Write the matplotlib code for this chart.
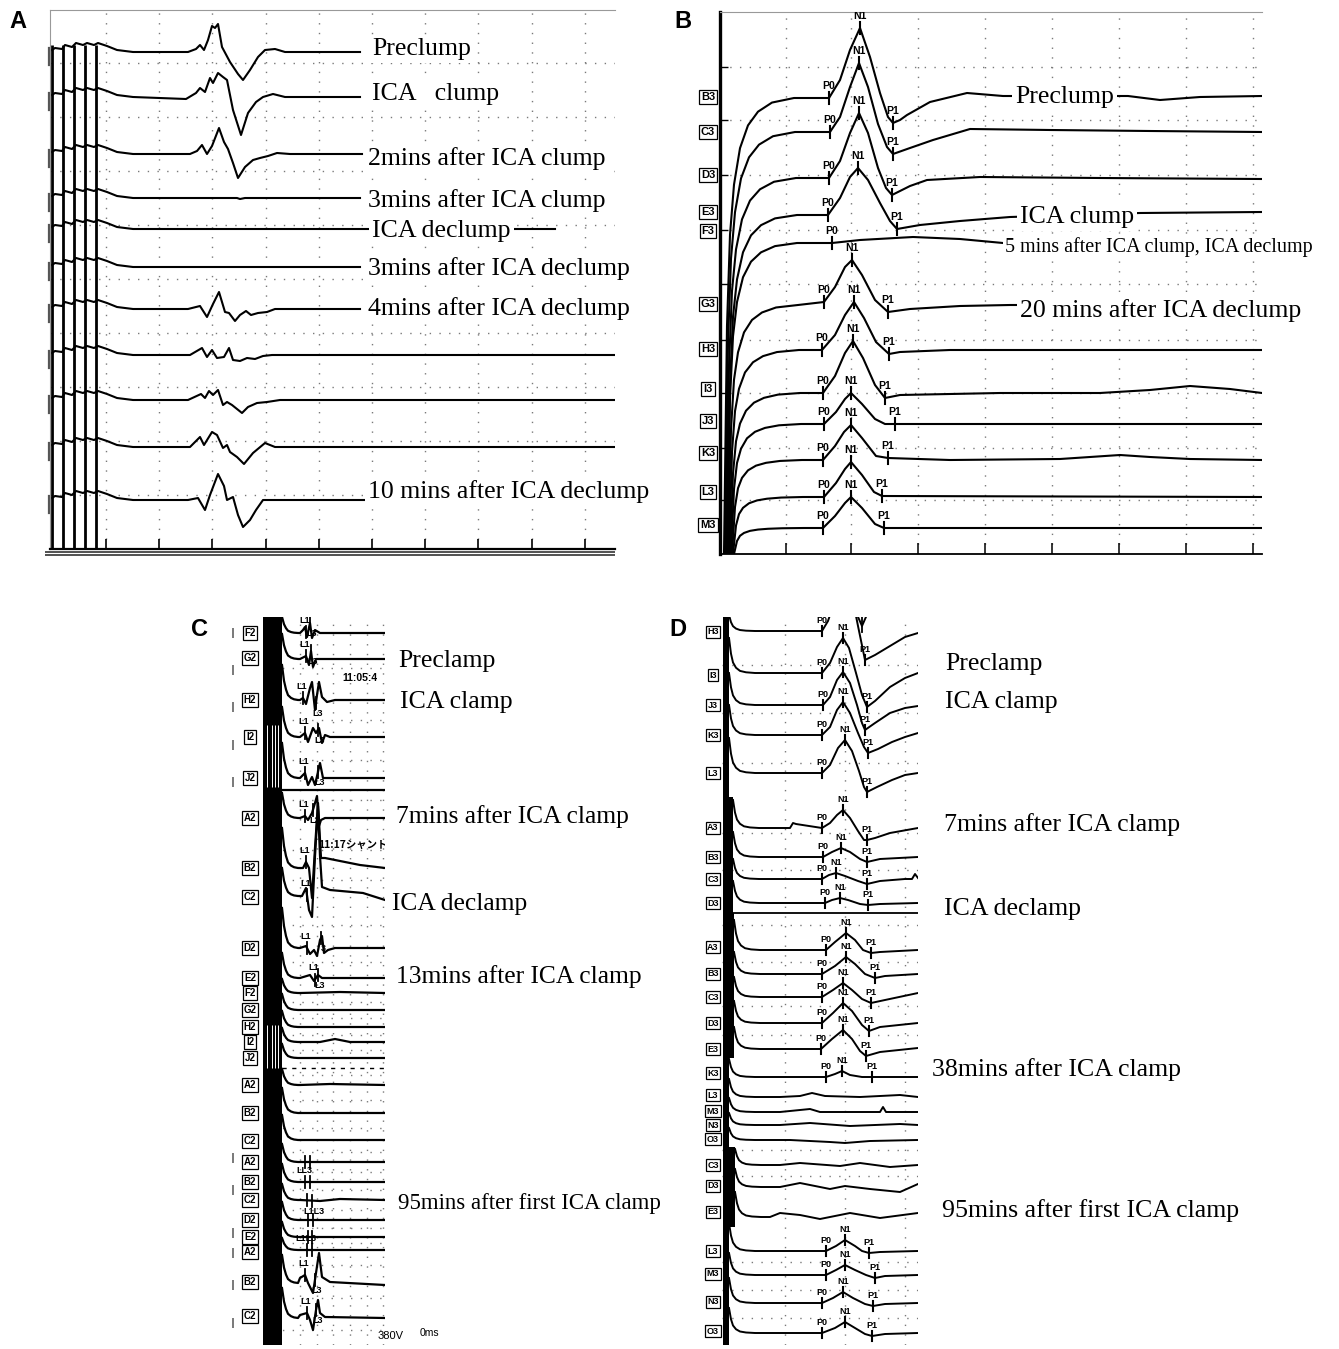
import numpy as np
import matplotlib
matplotlib.use("Agg")
import matplotlib.pyplot as plt

W, H = 1339, 1349
SERIF = "Liberation Serif"
SANS = "Liberation Sans"

# ---------------- panel A : 11 traces ----------------
A_base = [52, 97, 154, 198, 229, 267, 309, 355, 400, 447, 500]
A_end = [360, 360, 362, 360, 555, 360, 360, 615, 615, 615, 365]
A_start_x = [52, 55, 62, 65, 72, 76, 83, 87, 94, 98, 107, 117, 133]
A_start_dy = [-2, -4, -3, -7, -5, -9, -7, -9, -7, -9, -6, -2, 0]
A_cal_x = [52, 63, 74, 85, 96]
A_wave_x = [
    [188, 196, 200, 204, 208, 212, 215, 218, 222, 230, 238, 243, 250, 258, 265, 275, 285],
    [186, 196, 200, 205, 210, 213, 218, 223, 227, 233, 241, 248, 256, 263, 273, 285],
    [190, 197, 202, 207, 212, 219, 224, 228, 233, 238, 245, 253, 260, 268, 277, 290],
    [190, 237, 240, 245, 290],
    [190, 300],
    [190, 300],
    [188, 200, 207, 213, 219, 225, 229, 235, 240, 246, 251, 258, 267, 275],
    [190, 202, 207, 212, 217, 224, 229, 233, 240, 247, 255, 263, 272],
    [188, 201, 205, 209, 213, 218, 223, 227, 232, 242, 248, 257, 267, 280],
    [190, 200, 204, 212, 217, 223, 227, 230, 237, 244, 253, 265, 275],
    [188, 198, 205, 210, 218, 224, 227, 233, 238, 243, 250, 256, 263, 275],
]
A_wave_dy = [
    [0, -3, -7, -2, -12, -26, -24, -28, -5, 10, 22, 28, 18, 5, -2, -3, 0],
    [2, -4, -9, -5, -19, -14, -24, -20, -17, 13, 38, 16, 5, 0, -3, 0],
    [0, -3, -9, 0, -8, -26, -12, -5, 9, 24, 13, 6, 4, 2, -1, 0],
    [0, 0, 1, 0, 0],
    [0, 0],
    [0, 0],
    [0, -3, 8, -5, -17, 3, 4, 12, 6, 2, 6, 4, 3, 0],
    [0, -7, 2, -5, 3, 2, -7, 5, 6, 3, 4, 1, 0],
    [0, -6, -2, -9, -5, -10, 5, 2, 5, 13, 7, 3, 2, 0],
    [0, -10, -2, -15, -12, 1, -2, 5, 10, 17, 6, -4, 0],
    [0, -2, 10, -5, -26, -14, 0, -3, 15, 27, 20, 10, 0, 0],
]
A_grid_x = [106, 159, 212, 266, 319, 372, 425, 478, 532, 585]
A_grid_y = [63, 117, 171, 225, 279, 333, 387, 441, 495]
A_labels = ["Preclump", "ICA   clump", "2mins after ICA clump", "3mins after ICA clump",
            "ICA declump", "3mins after ICA declump", "4mins after ICA declump",
            "10 mins after ICA declump"]
A_label_x = [372, 372, 368, 368, 372, 368, 368, 368]
A_label_y = [49, 94, 159, 201, 231, 269, 309, 492]

# ---------------- panel B : 12 traces ----------------
B_names = ["B3", "C3", "D3", "E3", "F3", "G3", "H3", "I3", "J3", "K3", "L3", "M3"]
B_name_y = [97, 132, 175, 212, 231, 304, 349, 389, 421, 453, 492, 525]
B_base = [98, 132, 178, 215, 243, 305, 350, 393, 424, 460, 497, 528]
B_x0 = [724, 725, 726, 727, 727, 728, 729, 730, 731, 732, 733, 734]
B_rise_dx = [0, 3, 6, 10, 16, 24, 34, 48, 70]
B_rise_f = [1, 0.5, 0.3, 0.19, 0.11, 0.06, 0.03, 0.01, 0]
B_wave_x = [
    [829, 840, 850, 860, 870, 880, 888, 893, 900, 907, 930, 967, 1003, 1060, 1128, 1160, 1200, 1262],
    [830, 840, 850, 859, 868, 878, 887, 893, 910, 933, 970, 1050, 1150, 1262],
    [829, 840, 850, 859, 868, 878, 886, 892, 910, 927, 980, 1100, 1262],
    [828, 840, 850, 858, 868, 880, 890, 897, 920, 960, 1010, 1140, 1262],
    [832, 860, 913, 960, 1003, 1262],
    [824, 835, 845, 852, 862, 875, 888, 910, 960, 1010, 1262],
    [822, 835, 845, 854, 864, 876, 889, 900, 950, 1262],
    [823, 835, 845, 853, 863, 875, 885, 900, 1000, 1100, 1150, 1190, 1230, 1262],
    [824, 836, 845, 851, 862, 875, 885, 895, 1000, 1262],
    [823, 835, 844, 851, 862, 876, 888, 950, 1060, 1090, 1120, 1150, 1190, 1262],
    [824, 836, 845, 851, 862, 874, 882, 1262],
    [823, 835, 845, 851, 862, 875, 884, 1262],
]
B_wave_dy = [
    [0, -18, -48, -70, -41, -5, 19, 25, 22, 17, 4, -5, -2, -2, -2, 2, -1, -2],
    [0, -15, -45, -69, -45, -8, 15, 22, 16, 8, -3, -2, -1, 0],
    [0, -17, -45, -65, -45, -10, 10, 17, 8, 2, -1, 0, 1],
    [0, -17, -38, -47, -35, -12, 6, 14, 10, 6, 2, -2, -3],
    [0, -3, -6, -4, 0, 0],
    [-3, -18, -38, -45, -30, -5, 7, 4, 1, 0, 0],
    [0, -15, -35, -48, -32, -8, 4, 2, 0, 0],
    [0, -17, -40, -52, -35, -8, 5, 2, 0, 0, -3, -7, -4, 0],
    [0, -12, -25, -31, -20, -5, 0, 0, 0, 0],
    [0, -14, -28, -35, -22, -4, -2, 0, -1, -3, -5, -3, -1, 0],
    [0, -14, -28, -35, -22, -5, -1, 0],
    [0, -12, -25, -31, -20, -4, 0, 0],
]
B_p0 = [829, 830, 829, 828, 832, 824, 822, 823, 824, 823, 824, 823]
B_n1 = [860, 859, 859, 858, None, 852, 854, 853, 851, 851, 851, 851]
B_p1 = [893, 893, 892, 897, None, 888, 889, 885, 895, 888, 882, 884]
B_grid_x = [786, 851, 918, 985, 1052, 1119, 1186, 1253]
B_grid_y = [67, 120, 175, 230, 284, 340, 393, 448, 500]
B_labels = ["Preclump", "ICA clump", "5 mins after ICA clump, ICA declump", "20 mins after ICA declump"]
B_label_x = [1015, 1020, 1005, 1020]
B_label_y = [97, 217, 247, 311]
B_label_size = [18.6, 18.6, 14.5, 18.6]

# ---------------- panel C : 26 traces ----------------
C_names = ["F2", "G2", "H2", "I2", "J2", "A2", "B2", "C2", "D2", "E2", "F2", "G2", "H2",
           "I2", "J2", "A2", "B2", "C2", "A2", "B2", "C2", "D2", "E2", "A2", "B2", "C2"]
C_name_y = [633, 658, 700, 737, 778, 818, 868, 897, 948, 978, 993, 1010, 1027, 1042, 1058,
            1085, 1113, 1141, 1162, 1182, 1200, 1220, 1237, 1252, 1282, 1316]
C_base = [633, 659, 700, 737, 778, 818, 868, 896, 948, 978, 993, 1010, 1027, 1042, 1058,
          1085, 1113, 1140, 1162, 1182, 1200, 1220, 1237, 1250, 1283, 1318]
C_amp = [16, 25, 35, 30, 35, 25, 40, 28, 40, 25, 14, 16, 16, 14, 14,
         16, 25, 25, 18, 18, 16, 18, 15, 12, 28, 30]
C_drop_dx = [0, 2, 4, 6, 9, 12, 16]
C_drop_f = [1, 0.55, 0.3, 0.14, 0.06, 0.02, 0]
C_wave_x = [
    [300, 303, 305, 307, 310, 312, 315, 320, 385],
    [300, 306, 309, 311, 313, 316, 320, 385],
    [300, 303, 306, 310, 312, 315, 317, 319, 322, 327, 335, 385],
    [300, 305, 308, 313, 316, 319, 322, 325, 330, 385],
    [300, 305, 308, 312, 315, 320, 323, 330, 385],
    [300, 305, 308, 312, 315, 317, 319, 321, 325, 385],
    [303, 306, 309, 312, 315, 318, 321, 325, 340, 360, 385],
    [302, 306, 309, 312, 315, 318, 320, 322, 330, 363, 385],
    [300, 306, 310, 314, 317, 320, 322, 324, 328, 335, 385],
    [300, 310, 314, 318, 322, 385],
    [300, 340, 385],
    [300, 385],
    [300, 385],
    [300, 320, 335, 350, 385],
    [300, 385],
    [300, 330, 385],
    [300, 385],
    [300, 385],
    [300, 385],
    [300, 385],
    [300, 320, 340, 385],
    [300, 385],
    [300, 385],
    [300, 385],
    [300, 305, 308, 313, 316, 319, 322, 330, 385],
    [300, 307, 310, 313, 316, 318, 320, 325, 385],
]
C_wave_dy = [
    [0, -3, -6, 4, -10, 5, -3, 0, 0],
    [0, -3, 6, -8, 8, 0, 0, 0],
    [0, -2, 4, -12, -18, 10, -5, -18, -3, 2, 0, 0],
    [0, -4, 5, -9, -4, -9, 6, -2, 0, 0],
    [0, -5, 7, -1, 7, -15, 0, 0, 0],
    [0, -2, 2, -5, -15, -22, 8, 2, 0, 0],
    [0, -6, 0, 30, -20, -65, -10, -10, -7, -3, 0],
    [0, -8, 14, 21, -40, -90, -40, -9, -6, -3, 4],
    [0, -2, 6, 2, 8, -8, -12, 5, 2, 0, 0],
    [0, -3, 3, -3, 0, 0],
    [0, -1, 0],
    [0, 0],
    [0, 0],
    [0, 0, -3, 0, 0],
    [0, 0],
    [0, -1, 0],
    [0, 0],
    [0, 0],
    [0, 0],
    [0, 0],
    [0, 1, -1, 0],
    [0, 0],
    [0, 0],
    [0, 0],
    [-5, -8, 0, 10, -10, -30, -6, -1, 2],
    [-3, -5, 2, 12, -8, -18, -5, -1, 0],
]
# L1 / L3 latency ticks and their tags ("" = tick only)
C_l1 = [306, 306, 303, 305, 305, 305, 306, 307, 307, 315, None, None, None, None, None,
        None, None, None, 305, 305, 307, 308, 308, 307, 305, 307]
C_l3 = [310, 311, 316, 318, 318, 313, None, None, 321, 318, None, None, None, None, None,
        None, None, None, 310, 310, 312, 313, 312, 312, 315, 316]
C_l1_tag = ["L1", "L1", "L1", "L1", "L1", "L1", "L1", "L1", "L1", "L1", "", "", "", "", "",
            "", "", "", "", "LL3", "", "", "", "L1L3", "L1", "L1"]
C_l3_tag = ["L3", "L3", "L3", "L3", "L3", "L2", "", "", "3", "L3", "", "", "", "", "",
            "", "", "", "", "", "L1L3", "", "", "", "L3", "L3"]
C_grid_x = [300, 317, 333, 350, 367, 383]
C_grid_y = [668, 720, 760, 800, 850, 880, 925, 962, 1002, 1018, 1035, 1050, 1075, 1100,
            1128, 1152, 1172, 1190, 1210, 1228, 1243, 1265, 1298, 1330]
C_side_y = [633, 670, 707, 745, 782, 1158, 1190, 1233, 1253, 1285, 1323]
C_labels = ["Preclamp", "ICA clamp", "7mins after ICA clamp", "ICA declamp",
            "13mins after ICA clamp", "95mins after first ICA clamp"]
C_label_x = [398, 400, 396, 392, 396, 398]
C_label_y = [661, 702, 817, 904, 977, 1204]
C_label_size = [18.6, 18.6, 18.4, 18.4, 18.4, 16.5]

# ---------------- panel D : 26 traces ----------------
D_names = ["H3", "I3", "J3", "K3", "L3", "A3", "B3", "C3", "D3", "A3", "B3", "C3", "D3", "E3",
           "K3", "L3", "M3", "N3", "O3", "C3", "D3", "E3", "L3", "M3", "N3", "O3"]
D_name_y = [632, 675, 705, 735, 773, 828, 857, 879, 903, 947, 974, 997, 1023, 1049,
            1073, 1095, 1111, 1125, 1139, 1165, 1186, 1212, 1251, 1274, 1302, 1331]
D_base = [631, 673, 705, 735, 773, 828, 857, 879, 903, 950, 974, 997, 1023, 1049,
          1077, 1097, 1112, 1125, 1140, 1165, 1187, 1217, 1251, 1275, 1303, 1333]
D_amp = [16, 35, 32, 30, 35, 28, 25, 20, 22, 30, 22, 20, 22, 22,
         18, 18, 14, 12, 12, 16, 18, 25, 28, 22, 25, 25]
D_drop_dx = [0, 2, 4, 7, 11, 17, 26]
D_drop_f = [1, 0.55, 0.3, 0.15, 0.06, 0.02, 0]
D_bar_top = [617, 797, 913, 1058, 1147, 1227]
D_bar_bot = [797, 913, 1058, 1147, 1227, 1345]
D_bar_right = [729, 733, 734, 729, 735, 729]
D_wave_x = [
    [822, 828, 834, 840, 848, 853, 858, 865, 875, 890, 905, 918],
    [822, 830, 837, 843, 849, 856, 862, 867, 875, 890, 905, 918],
    [823, 830, 837, 843, 850, 857, 862, 865, 875, 890, 905, 918],
    [822, 830, 837, 843, 850, 858, 864, 868, 878, 892, 905, 918],
    [822, 830, 838, 845, 852, 859, 864, 867, 877, 892, 905, 918],
    [790, 793, 796, 822, 830, 837, 843, 850, 858, 864, 867, 875, 890, 918],
    [823, 832, 841, 850, 860, 867, 880, 918],
    [822, 829, 836, 845, 858, 867, 880, 905, 912, 915, 918],
    [825, 832, 840, 848, 860, 868, 880, 918],
    [826, 835, 846, 855, 863, 871, 880, 918],
    [822, 835, 846, 855, 865, 875, 885, 918],
    [822, 833, 843, 852, 862, 871, 885, 918],
    [822, 833, 843, 852, 862, 869, 880, 918],
    [821, 832, 843, 852, 860, 866, 880, 918],
    [826, 835, 842, 850, 862, 872, 918],
    [780, 800, 812, 825, 860, 900, 918],
    [780, 810, 820, 880, 883, 886, 918],
    [780, 810, 850, 900, 918],
    [790, 830, 845, 870, 918],
    [780, 800, 840, 860, 890, 918],
    [780, 800, 830, 845, 870, 900, 918],
    [770, 780, 800, 820, 850, 880, 918],
    [826, 836, 845, 855, 862, 869, 880, 918],
    [826, 836, 845, 855, 866, 875, 885, 918],
    [822, 833, 843, 853, 865, 873, 885, 918],
    [822, 835, 845, 855, 865, 872, 885, 918],
]
D_wave_dy = [
    [0, -10, -28, -45, -50, -30, -5, 29, 24, 15, 6, 2],
    [0, -10, -26, -35, -25, 0, 22, 34, 28, 14, 5, 0],
    [0, -8, -25, -33, -22, 0, 18, 25, 18, 8, 3, 1],
    [0, -8, -25, -33, -22, -2, 12, 18, 14, 7, 2, -2],
    [0, -8, -25, -33, -22, -2, 14, 19, 14, 7, 2, 0],
    [0, -5, -4, 0, -5, -13, -18, -10, 3, 12, 12, 10, 5, 0],
    [0, -5, -9, -5, 2, 5, 2, 0],
    [0, -4, -6, -3, 2, 5, 2, 0, 0, -5, -1],
    [0, -3, -5, -3, 1, 2, 1, 0],
    [0, -8, -17, -10, 0, 3, 2, 0],
    [0, -8, -17, -10, 0, 4, 2, 0],
    [0, -7, -14, -7, 2, 6, 3, -4],
    [0, -10, -20, -12, 2, 8, 4, 0],
    [0, -10, -19, -10, 2, 7, 3, -1],
    [0, -3, -6, -2, 0, 0, 0],
    [0, -1, -4, -1, 0, -2, 0],
    [0, -3, 0, 0, -5, 0, 0],
    [0, -2, 1, -1, 0],
    [0, 2, 3, 1, 0],
    [0, -2, 1, -2, 2, 0],
    [0, -4, 2, -1, 2, 5, -3],
    [0, -4, -2, 2, -4, 1, -4],
    [0, -5, -11, -5, 0, 2, 1, 0],
    [0, -5, -10, -5, 0, 3, 1, 0],
    [0, -5, -11, -5, 1, 3, 1, 0],
    [0, -5, -11, -5, 1, 3, 1, 0],
]
D_p0 = [822, 822, 823, 822, 822, 822, 823, 822, 825, 826, 822, 822, 822, 821,
        826, None, None, None, None, None, None, None, 826, 826, 822, 822]
D_n1 = [None, 843, 843, 843, 845, 843, 841, 836, 840, 846, 846, 843, 843, 843,
        842, None, None, None, None, None, None, None, 845, 845, 843, 845]
D_p1 = [865, 867, 865, 868, 867, 867, 867, 867, 868, 871, 875, 871, 869, 866,
        872, None, None, None, None, None, None, None, 869, 875, 873, 872]
D_top_x = [855, 862, 869]
D_top_y = [610, 626, 610]
D_grid_x = [785, 845, 905]
D_grid_y = [665, 713, 763, 833, 870, 925, 962, 1006, 1035, 1150, 1176, 1262, 1290, 1318]
D_labels = ["Preclamp", "ICA clamp", "7mins after ICA clamp", "ICA declamp",
            "38mins after ICA clamp", "95mins after first ICA clamp"]
D_label_x = [945, 945, 944, 944, 932, 942]
D_label_y = [664, 702, 825, 909, 1070, 1211]

fig = plt.figure(figsize=(W / 100, H / 100), dpi=100)


def panel_axes(x0, x1, y0, y1):
    ax = fig.add_axes([x0 / W, 1 - y1 / H, (x1 - x0) / W, (y1 - y0) / H])
    ax.set_xlim(x0, x1)
    ax.set_ylim(y1, y0)
    ax.set_facecolor("none")
    for s in ax.spines.values():
        s.set_visible(False)
    ax.tick_params(length=0, labelbottom=False, labelleft=False)
    return ax


def dotted_grid(ax, gx, gy):
    ax.set_xticks(gx)
    ax.set_yticks(gy)
    ax.grid(True, color="#7a7a7a", lw=1.0, linestyle=(0, (1, 6)))
    ax.set_axisbelow(True)


def draw(ax, xs, ys, lw=1.4):
    ax.plot(xs, ys, color="k", lw=lw, solid_joinstyle="round")


def marker(ax, xs, ys, mx, name, size, half):
    my = np.interp(mx, xs, ys)
    ax.plot([mx, mx], [my - half, my + half], color="k", lw=1.5)
    ax.text(mx, my - half - 1, name, ha="center", va="bottom", fontsize=size,
            fontweight="bold", family=SANS, clip_on=True)


def chan_box(ax, x, y, name, size=7.5):
    ax.text(x, y, name, ha="center", va="center", fontsize=size, fontweight="bold",
            family=SANS, clip_on=False,
            bbox=dict(boxstyle="square,pad=0.18", fc="white", ec="k", lw=0.9))


# ---------------- A ----------------
axA = panel_axes(50, 615, 10, 549)
dotted_grid(axA, A_grid_x, A_grid_y)
axA.spines["top"].set_visible(True)
axA.spines["top"].set_color("#999999")
axA.spines["left"].set_visible(True)
axA.spines["left"].set_color("#999999")
axA.spines["bottom"].set_visible(True)
axA.spines["bottom"].set_linewidth(1.6)
axA.tick_params(axis="x", direction="in", length=7, width=1.2, bottom=True)
axA.vlines(A_cal_x, 45, 549, color="k", lw=2.0)
axA.hlines([552, 555], 45, 615, color="#333333", lw=1.2, clip_on=False)
for i, b in enumerate(A_base):
    xs = A_start_x + A_wave_x[i] + [A_end[i]]
    ys = [b + d for d in A_start_dy] + [b + d for d in A_wave_dy[i]] + [b]
    draw(axA, xs, ys, lw=1.5)
    axA.plot([48.5, 48.5], [b - 4, b + 13], color="#555555", lw=1.6, clip_on=False)

# ---------------- B ----------------
axB = panel_axes(720, 1262, 12, 554)
dotted_grid(axB, B_grid_x, B_grid_y)
axB.spines["left"].set_visible(True)
axB.spines["left"].set_linewidth(2.4)
axB.spines["bottom"].set_visible(True)
axB.spines["bottom"].set_linewidth(1.3)
axB.spines["top"].set_visible(True)
axB.spines["top"].set_color("#999999")
axB.tick_params(axis="x", direction="in", length=8, width=1.1, bottom=True)
axB.tick_params(axis="y", direction="in", length=6, width=1.0, left=True)
for i, b in enumerate(B_base):
    amp = 554 - b
    xs = [B_x0[i] + d for d in B_rise_dx] + B_wave_x[i]
    ys = [b + amp * f for f in B_rise_f] + [b + d for d in B_wave_dy[i]]
    draw(axB, xs, ys, lw=1.5)
    for mx, nm in zip([B_p0[i], B_n1[i], B_p1[i]], ["P0", "N1", "P1"]):
        if mx is not None:
            marker(axB, xs, ys, mx, nm, 7.5, 6)
    chan_box(axB, 708, B_name_y[i], B_names[i], 8)

# ---------------- C ----------------
axC = panel_axes(263, 385, 617, 1345)
dotted_grid(axC, C_grid_x, C_grid_y)
axC.axvspan(263, 282, color="k", lw=0)
axC.vlines([267, 272, 275, 278], 725, 787, color="white", lw=0.7)
axC.vlines([267, 272, 275, 278], 1025, 1068, color="white", lw=0.7)
axC.hlines(790, 263, 385, color="k", lw=1.6)
axC.hlines(1068, 282, 385, color="k", lw=1.0, linestyle=(0, (3, 4)))
for i, b in enumerate(C_base):
    xs = [282 + d for d in C_drop_dx] + C_wave_x[i]
    ys = [b - C_amp[i] * f for f in C_drop_f] + [b + d for d in C_wave_dy[i]]
    draw(axC, xs, ys, lw=1.6)
    for mx, tag, up in zip([C_l1[i], C_l3[i]], [C_l1_tag[i], C_l3_tag[i]], [True, False]):
        if mx is None:
            continue
        my = np.interp(mx, xs, ys)
        axC.plot([mx, mx], [my - 6, my + 6], color="k", lw=1.3)
        if not tag:
            continue
        if up:
            axC.text(mx - 1, my - 7, tag, ha="center", va="bottom", fontsize=6.5,
                     fontweight="bold", family=SANS, clip_on=True)
        else:
            axC.text(mx + 2, my + 6, tag, ha="center", va="top", fontsize=6.5,
                     fontweight="bold", family=SANS, clip_on=True)
    chan_box(axC, 250, C_name_y[i], C_names[i], 7.0)
axC.vlines([233] * len(C_side_y), [y - 5 for y in C_side_y], [y + 5 for y in C_side_y],
           color="#555555", lw=1.1, clip_on=False)
axC.text(342, 678, "11:05:4", fontsize=7.5, fontweight="bold", family=SANS,
         va="center", clip_on=True)
axC.text(318, 845, "11:17シャント終", fontsize=7.5, fontweight="bold",
         family=["Noto Sans CJK JP", "DejaVu Sans"], va="center", clip_on=True)
axC.text(378, 1336, "380V", fontsize=8, family=SANS, va="center", clip_on=False)
axC.text(420, 1333, "0ms", fontsize=7.5, family=SANS, va="center", clip_on=False)

# ---------------- D ----------------
axD = panel_axes(722, 918, 617, 1345)
dotted_grid(axD, D_grid_x, D_grid_y)
for t, bt, r in zip(D_bar_top, D_bar_bot, D_bar_right):
    axD.fill_betweenx([t, bt], 723, r, color="k", lw=0)
axD.hlines(913, 723, 918, color="k", lw=1.3)
for i, b in enumerate(D_base):
    sec = int(np.searchsorted(D_bar_bot, b))
    x0 = D_bar_right[sec]
    xs = [x0 + d for d in D_drop_dx] + D_wave_x[i]
    ys = [b - D_amp[i] * f for f in D_drop_f] + [b + d for d in D_wave_dy[i]]
    draw(axD, xs, ys, lw=1.4)
    for mx, nm in zip([D_p0[i], D_n1[i], D_p1[i]], ["P0", "N1", "P1"]):
        if mx is not None:
            marker(axD, xs, ys, mx, nm, 6.5, 5)
    chan_box(axD, 713, D_name_y[i], D_names[i], 6.5)
draw(axD, D_top_x, D_top_y, lw=1.4)
axD.plot([D_top_x[1], D_top_x[1]], [614, 632], color="k", lw=1.3)

# ---------------- labels on top ----------------
ov = fig.add_axes([0, 0, 1, 1])
ov.set_xlim(0, W)
ov.set_ylim(H, 0)
ov.set_axis_off()
ov.patch.set_alpha(0)

box = dict(boxstyle="square,pad=0.12", fc="white", ec="none")
for s, x, y in zip(A_labels, A_label_x, A_label_y):
    ov.text(x, y, s, fontsize=18.6, family=SERIF, va="center", ha="left", bbox=box)
for s, x, y, fs in zip(B_labels, B_label_x, B_label_y, B_label_size):
    ov.text(x, y, s, fontsize=fs, family=SERIF, va="center", ha="left", bbox=box)
for s, x, y, fs in zip(C_labels, C_label_x, C_label_y, C_label_size):
    ov.text(x, y, s, fontsize=fs, family=SERIF, va="center", ha="left")
for s, x, y in zip(D_labels, D_label_x, D_label_y):
    ov.text(x, y, s, fontsize=18.6, family=SERIF, va="center", ha="left")

for s, x, y in zip(["A", "B", "C", "D"], [18, 683, 200, 678], [22, 22, 630, 630]):
    ov.text(x, y, s, fontsize=17, fontweight="bold", family=SANS, ha="center", va="center")

fig.savefig("out.png", dpi=100, facecolor="white")
